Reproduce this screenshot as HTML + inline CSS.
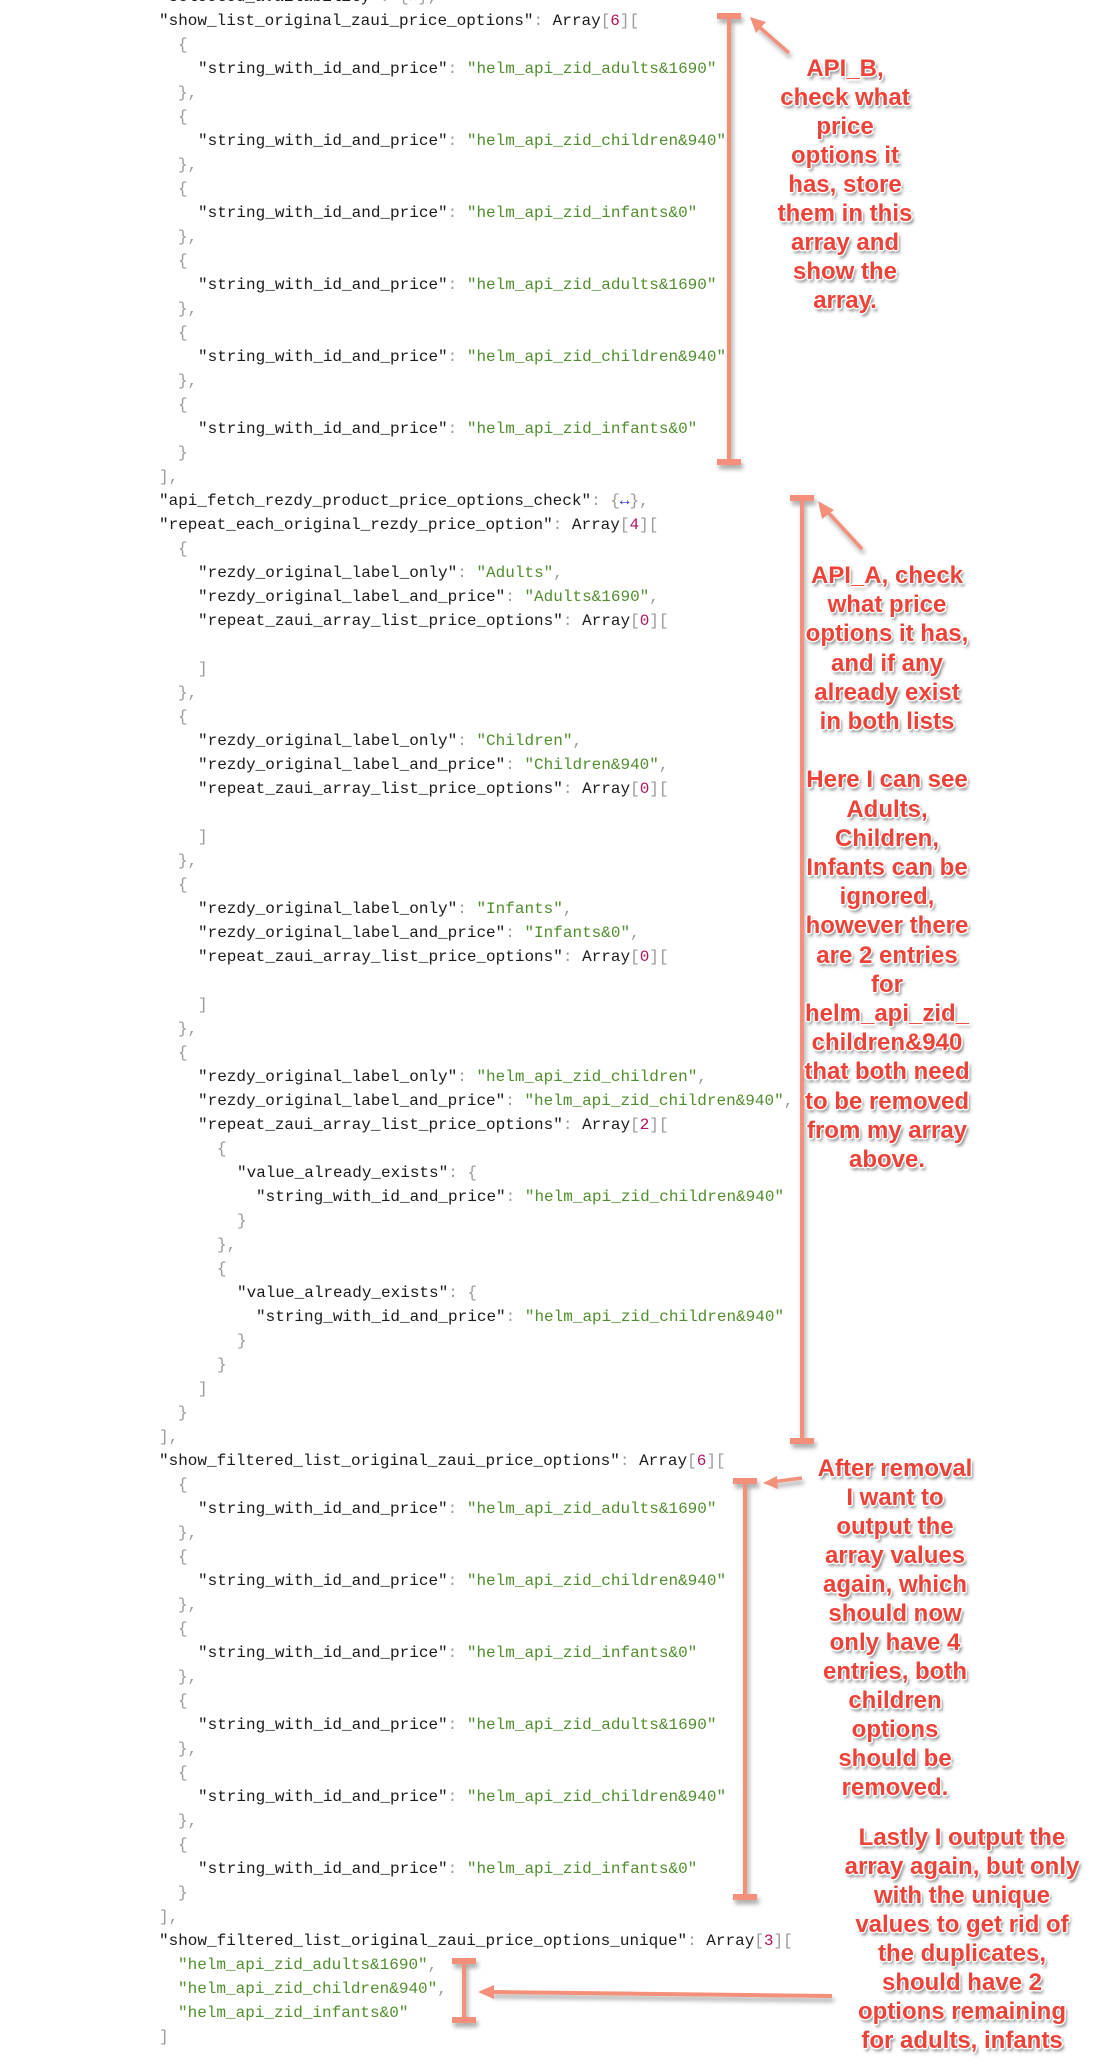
<!DOCTYPE html>
<html><head><meta charset="utf-8">
<style>
html,body{margin:0;padding:0;background:#fff;width:1110px;height:2066px;overflow:hidden;position:relative}
#code{position:absolute;left:0;top:-15px;font-family:"Liberation Mono","DejaVu Sans Mono",monospace;font-size:16px;line-height:24px;color:#1a1a1a}
#code div{height:24px;white-space:pre}
.l0{padding-left:159px}.l1{padding-left:178px}.l2{padding-left:198px}.l3{padding-left:217px}.l4{padding-left:237px}.l5{padding-left:256px}
.p{color:#9a9a9a}.s{color:#4f8e2c}.n{color:#b0135f}.b{color:#2b35e0}
.ann{position:absolute;font-family:"Liberation Sans",Arial,sans-serif;font-weight:bold;font-size:24px;line-height:29px;color:#ee4238;text-align:center;white-space:pre;
text-shadow:-1.5px 0 #fff,1.5px 0 #fff,0 -1.5px #fff,0 1.5px #fff,-1px -1px #fff,1px 1px #fff,-1px 1px #fff,1px -1px #fff,2px 3px 3px rgba(0,0,0,.55)}
svg{position:absolute;left:0;top:0}
</style></head><body>
<div id="code">
<div class="l0"><span>"selected_availability"</span><span class="p">: </span><span class="p">{</span><span class="b">↔</span><span class="p">},</span></div>
<div class="l0">"show_list_original_zaui_price_options"<span class="p">: </span>Array<span class="p">[</span><span class="n">6</span><span class="p">][</span></div>
<div class="l1 p">{</div>
<div class="l2">"string_with_id_and_price"<span class="p">: </span><span class="s">"helm_api_zid_adults&amp;1690"</span></div>
<div class="l1 p">},</div>
<div class="l1 p">{</div>
<div class="l2">"string_with_id_and_price"<span class="p">: </span><span class="s">"helm_api_zid_children&amp;940"</span></div>
<div class="l1 p">},</div>
<div class="l1 p">{</div>
<div class="l2">"string_with_id_and_price"<span class="p">: </span><span class="s">"helm_api_zid_infants&amp;0"</span></div>
<div class="l1 p">},</div>
<div class="l1 p">{</div>
<div class="l2">"string_with_id_and_price"<span class="p">: </span><span class="s">"helm_api_zid_adults&amp;1690"</span></div>
<div class="l1 p">},</div>
<div class="l1 p">{</div>
<div class="l2">"string_with_id_and_price"<span class="p">: </span><span class="s">"helm_api_zid_children&amp;940"</span></div>
<div class="l1 p">},</div>
<div class="l1 p">{</div>
<div class="l2">"string_with_id_and_price"<span class="p">: </span><span class="s">"helm_api_zid_infants&amp;0"</span></div>
<div class="l1 p">}</div>
<div class="l0 p">],</div>
<div class="l0">"api_fetch_rezdy_product_price_options_check"<span class="p">: {</span><span class="b">↔</span><span class="p">},</span></div>
<div class="l0">"repeat_each_original_rezdy_price_option"<span class="p">: </span>Array<span class="p">[</span><span class="n">4</span><span class="p">][</span></div>
<div class="l1 p">{</div>
<div class="l2">"rezdy_original_label_only"<span class="p">: </span><span class="s">"Adults"</span><span class="p">,</span></div>
<div class="l2">"rezdy_original_label_and_price"<span class="p">: </span><span class="s">"Adults&amp;1690"</span><span class="p">,</span></div>
<div class="l2">"repeat_zaui_array_list_price_options"<span class="p">: </span>Array<span class="p">[</span><span class="n">0</span><span class="p">][</span></div>
<div> </div>
<div class="l2 p">]</div>
<div class="l1 p">},</div>
<div class="l1 p">{</div>
<div class="l2">"rezdy_original_label_only"<span class="p">: </span><span class="s">"Children"</span><span class="p">,</span></div>
<div class="l2">"rezdy_original_label_and_price"<span class="p">: </span><span class="s">"Children&amp;940"</span><span class="p">,</span></div>
<div class="l2">"repeat_zaui_array_list_price_options"<span class="p">: </span>Array<span class="p">[</span><span class="n">0</span><span class="p">][</span></div>
<div> </div>
<div class="l2 p">]</div>
<div class="l1 p">},</div>
<div class="l1 p">{</div>
<div class="l2">"rezdy_original_label_only"<span class="p">: </span><span class="s">"Infants"</span><span class="p">,</span></div>
<div class="l2">"rezdy_original_label_and_price"<span class="p">: </span><span class="s">"Infants&amp;0"</span><span class="p">,</span></div>
<div class="l2">"repeat_zaui_array_list_price_options"<span class="p">: </span>Array<span class="p">[</span><span class="n">0</span><span class="p">][</span></div>
<div> </div>
<div class="l2 p">]</div>
<div class="l1 p">},</div>
<div class="l1 p">{</div>
<div class="l2">"rezdy_original_label_only"<span class="p">: </span><span class="s">"helm_api_zid_children"</span><span class="p">,</span></div>
<div class="l2">"rezdy_original_label_and_price"<span class="p">: </span><span class="s">"helm_api_zid_children&amp;940"</span><span class="p">,</span></div>
<div class="l2">"repeat_zaui_array_list_price_options"<span class="p">: </span>Array<span class="p">[</span><span class="n">2</span><span class="p">][</span></div>
<div class="l3 p">{</div>
<div class="l4">"value_already_exists"<span class="p">: {</span></div>
<div class="l5">"string_with_id_and_price"<span class="p">: </span><span class="s">"helm_api_zid_children&amp;940"</span></div>
<div class="l4 p">}</div>
<div class="l3 p">},</div>
<div class="l3 p">{</div>
<div class="l4">"value_already_exists"<span class="p">: {</span></div>
<div class="l5">"string_with_id_and_price"<span class="p">: </span><span class="s">"helm_api_zid_children&amp;940"</span></div>
<div class="l4 p">}</div>
<div class="l3 p">}</div>
<div class="l2 p">]</div>
<div class="l1 p">}</div>
<div class="l0 p">],</div>
<div class="l0">"show_filtered_list_original_zaui_price_options"<span class="p">: </span>Array<span class="p">[</span><span class="n">6</span><span class="p">][</span></div>
<div class="l1 p">{</div>
<div class="l2">"string_with_id_and_price"<span class="p">: </span><span class="s">"helm_api_zid_adults&amp;1690"</span></div>
<div class="l1 p">},</div>
<div class="l1 p">{</div>
<div class="l2">"string_with_id_and_price"<span class="p">: </span><span class="s">"helm_api_zid_children&amp;940"</span></div>
<div class="l1 p">},</div>
<div class="l1 p">{</div>
<div class="l2">"string_with_id_and_price"<span class="p">: </span><span class="s">"helm_api_zid_infants&amp;0"</span></div>
<div class="l1 p">},</div>
<div class="l1 p">{</div>
<div class="l2">"string_with_id_and_price"<span class="p">: </span><span class="s">"helm_api_zid_adults&amp;1690"</span></div>
<div class="l1 p">},</div>
<div class="l1 p">{</div>
<div class="l2">"string_with_id_and_price"<span class="p">: </span><span class="s">"helm_api_zid_children&amp;940"</span></div>
<div class="l1 p">},</div>
<div class="l1 p">{</div>
<div class="l2">"string_with_id_and_price"<span class="p">: </span><span class="s">"helm_api_zid_infants&amp;0"</span></div>
<div class="l1 p">}</div>
<div class="l0 p">],</div>
<div class="l0">"show_filtered_list_original_zaui_price_options_unique"<span class="p">: </span>Array<span class="p">[</span><span class="n">3</span><span class="p">][</span></div>
<div class="l1"><span class="s">"helm_api_zid_adults&amp;1690"</span><span class="p">,</span></div>
<div class="l1"><span class="s">"helm_api_zid_children&amp;940"</span><span class="p">,</span></div>
<div class="l1"><span class="s">"helm_api_zid_infants&amp;0"</span></div>
<div class="l0 p">]</div>
</div>

<svg width="1110" height="2066" viewBox="0 0 1110 2066">
<defs>
<filter id="sh" x="-50%" y="-5%" width="200%" height="110%"><feDropShadow dx="2" dy="4" stdDeviation="2.5" flood-color="#000" flood-opacity="0.35"/></filter>
</defs>
<g stroke="#f4907a" fill="none" filter="url(#sh)">
<line x1="729" y1="16" x2="729" y2="462" stroke-width="4"/>
<line x1="717" y1="16" x2="741" y2="16" stroke-width="6"/>
<line x1="717" y1="462" x2="741" y2="462" stroke-width="6"/>
<line x1="802" y1="498" x2="802" y2="1441" stroke-width="4"/>
<line x1="790" y1="498" x2="814" y2="498" stroke-width="6"/>
<line x1="790" y1="1441" x2="814" y2="1441" stroke-width="6"/>
<line x1="745" y1="1481" x2="745" y2="1897" stroke-width="4"/>
<line x1="733" y1="1481" x2="757" y2="1481" stroke-width="6"/>
<line x1="733" y1="1897" x2="757" y2="1897" stroke-width="6"/>
<line x1="464" y1="1961" x2="464" y2="2020" stroke-width="4"/>
<line x1="452" y1="1961" x2="476" y2="1961" stroke-width="6"/>
<line x1="452" y1="2020" x2="476" y2="2020" stroke-width="6"/>
<line x1="789" y1="53" x2="757" y2="25" stroke-width="3.5"/>
<line x1="862" y1="549" x2="825" y2="509" stroke-width="3.5"/>
<line x1="802" y1="1478" x2="772" y2="1482" stroke-width="3.5"/>
<line x1="832" y1="1996" x2="490" y2="1992" stroke-width="4"/>
</g>
<g fill="#f4907a">
<polygon points="750,17 766,22 756,33"/>
<polygon points="818,501 834,510 822,519"/>
<polygon points="763,1483 777,1476 778,1489"/>
<polygon points="478,1992 494,1985 494,1999"/>
</g>
</svg>

<div class="ann" style="left:695px;width:300px;top:54px">API_B,
check what
price
options it
has, store
them in this
array and
show the
array.</div>

<div class="ann" style="left:737px;width:300px;top:561px;line-height:29.2px">API_A, check
what price
options it has,
and if any
already exist
in both lists

Here I can see
Adults,
Children,
Infants can be
ignored,
however there
are 2 entries
for
helm_api_zid_
children&amp;940
that both need
to be removed
from my array
above.</div>

<div class="ann" style="left:745px;width:300px;top:1454px">After removal
I want to
output the
array values
again, which
should now
only have 4
entries, both
children
options
should be
removed.</div>

<div class="ann" style="left:812px;width:300px;top:1823px">Lastly I output the
array again, but only
with the unique
values to get rid of
the duplicates,
should have 2
options remaining
for adults, infants</div>
</body></html>
